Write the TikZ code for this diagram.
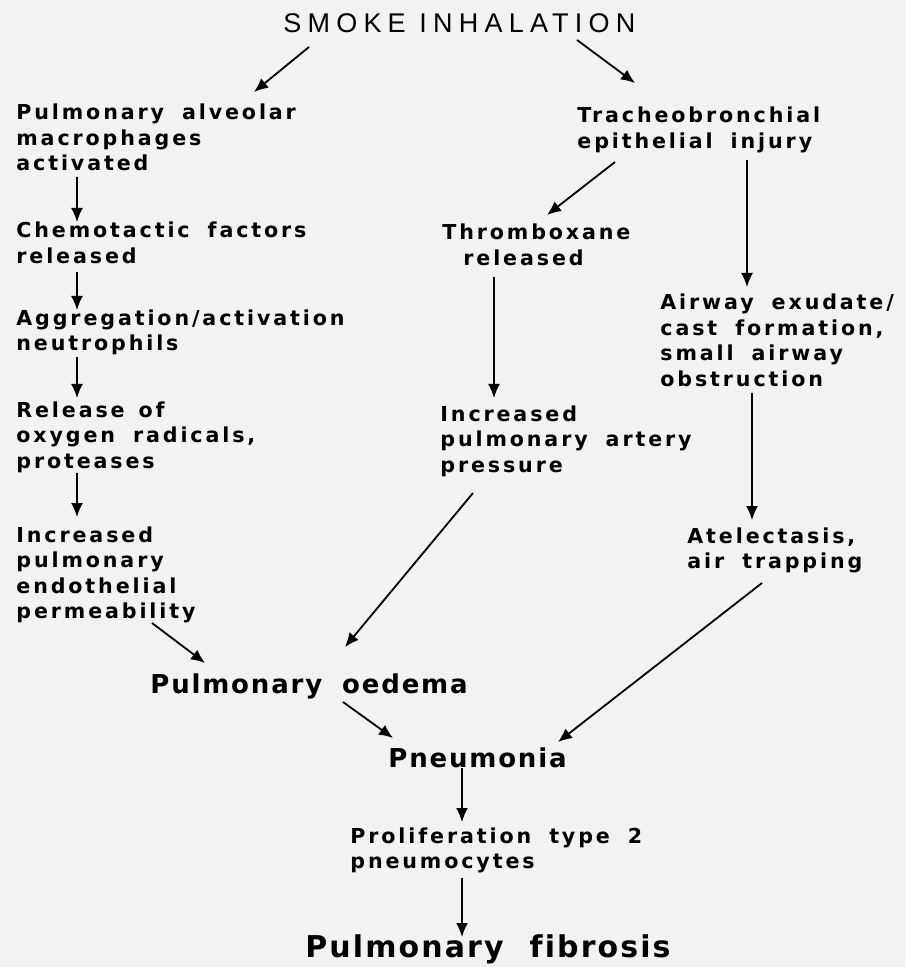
\documentclass[tikz,border=0pt]{standalone}
\usepackage{fontspec}
\usetikzlibrary{arrows.meta}
\newfontfamily\lblfont[LetterSpace=14,Ligatures=NoCommon]{DejaVu Sans}
\newfontfamily\bigfont[LetterSpace=7,Ligatures=NoCommon]{DejaVu Sans}
\newfontfamily\headfont[LetterSpace=23]{Liberation Sans}
\newcommand\lblsize{\fontsize{10.3}{12.75}\selectfont\spaceskip 9pt\relax}
\newcommand\bigsize{\fontsize{13}{16}\selectfont\spaceskip 10pt\relax}
\newcommand\fibsize{\fontsize{15}{18}\selectfont\spaceskip 13pt\relax}
\definecolor{paper}{RGB}{242,242,242}

\begin{document}
\begin{tikzpicture}[x=0.5pt,y=-0.5pt]
	\tikzstyle{every node}=[inner sep=0pt,anchor=base west]
	\tikzstyle{lbl}=[font={\lblfont\bfseries\lblsize},align=left]
	\tikzstyle{big}=[font={\bigfont\bfseries\bigsize}]
	\tikzstyle{arr}=[line width=0.9pt,-{Latex[length=7pt,width=6pt]}]
	
	\fill[paper] (0,0) rectangle (905,967);
	\useasboundingbox (0,0) rectangle (905,967);
	
	\node (smoke) at (283,33) [font={\headfont\fontsize{13.5}{16}\selectfont}] {SMOKE INHALATION};
	
	% left column (nodes sit on their last baseline)
	\node (pam) at (16,171) [lbl] {Pulmonary alveolar\\macrophages\\activated};
	\node (chem) at (16,263.5) [lbl] {Chemotactic factors\\released};
	\node (agg) at (16,350.5) [lbl] {Aggregation/activation\\neutrophils};
	\node (rel) at (16,468) [lbl] {Release\hspace{7pt}of\\oxygen radicals,\\proteases};
	\node (incp) at (16,618.5) [lbl] {Increased\\pulmonary\\endothelial\\permeability};
	
	% right columns
	\node (trach) at (577,148.5) [lbl] {Tracheobronchial\\epithelial injury};
	\node (thromb) at (442,265.5) [lbl] {Thromboxane\\\hspace*{10.5pt}released};
	\node (ipap) at (440,472) [lbl] {Increased\\pulmonary artery\\pressure};
	\node (airway) at (660,386.5) [lbl] {Airway exudate/\\cast formation,\\small airway\\obstruction};
	\node (atel) at (687,568.5) [lbl] {Atelectasis,\\air trapping};
	
	% bottom
	\node (oedema) at (150,693) [big] {Pulmonary oedema};
	\node (pneu) at (388,767) [big] {Pneumonia};
	\node (prolif) at (350,868.5) [lbl] {Proliferation type 2\\pneumocytes};
	\node (fib) at (305,957) [font={\bigfont\bfseries\fibsize}] {Pulmonary fibrosis};
	
	\draw[arr] ([shift={(26,14)}]smoke.base west) -- ([shift={(238,-79)}]pam.base west);
	\draw[arr] ([shift={(294,7)}]smoke.base west) -- ([shift={(58,-65.5)}]trach.base west);
	
	\draw[arr] ([shift={(61,6)}]pam.base west) -- ([shift={(61,-41.5)}]chem.base west);
	\draw[arr] ([shift={(61,8.5)}]chem.base west) -- ([shift={(61,-40.5)}]agg.base west);
	\draw[arr] ([shift={(61,6.5)}]agg.base west) -- ([shift={(61,-70)}]rel.base west);
	\draw[arr] ([shift={(61,5)}]rel.base west) -- ([shift={(61,-101.5)}]incp.base west);
	\draw[arr] ([shift={(136,4.5)}]incp.base west) -- ([shift={(55,-30)}]oedema.base west);
	
	\draw[arr] ([shift={(38,13.5)}]trach.base west) -- ([shift={(105,-50.5)}]thromb.base west);
	\draw[arr] ([shift={(170,11.5)}]trach.base west) -- ([shift={(87,-99.5)}]airway.base west);
	\draw[arr] ([shift={(52,11.5)}]thromb.base west) -- ([shift={(54,-74)}]ipap.base west);
	\draw[arr] ([shift={(92,6.5)}]airway.base west) -- ([shift={(65,-48.5)}]atel.base west);
	\draw[arr] ([shift={(33,21)}]ipap.base west) -- ([shift={(195,-46)}]oedema.base west);
	\draw[arr] ([shift={(75,14.5)}]atel.base west) -- ([shift={(170,-25)}]pneu.base west);
	
	\draw[arr] ([shift={(193,9)}]oedema.base west) -- ([shift={(5,-29)}]pneu.base west);
	\draw[arr] ([shift={(74,1)}]pneu.base west) -- ([shift={(112,-46.5)}]prolif.base west);
	\draw[arr] ([shift={(112,9.5)}]prolif.base west) -- ([shift={(157,-20)}]fib.base west);
	
\end{tikzpicture}
\end{document}
